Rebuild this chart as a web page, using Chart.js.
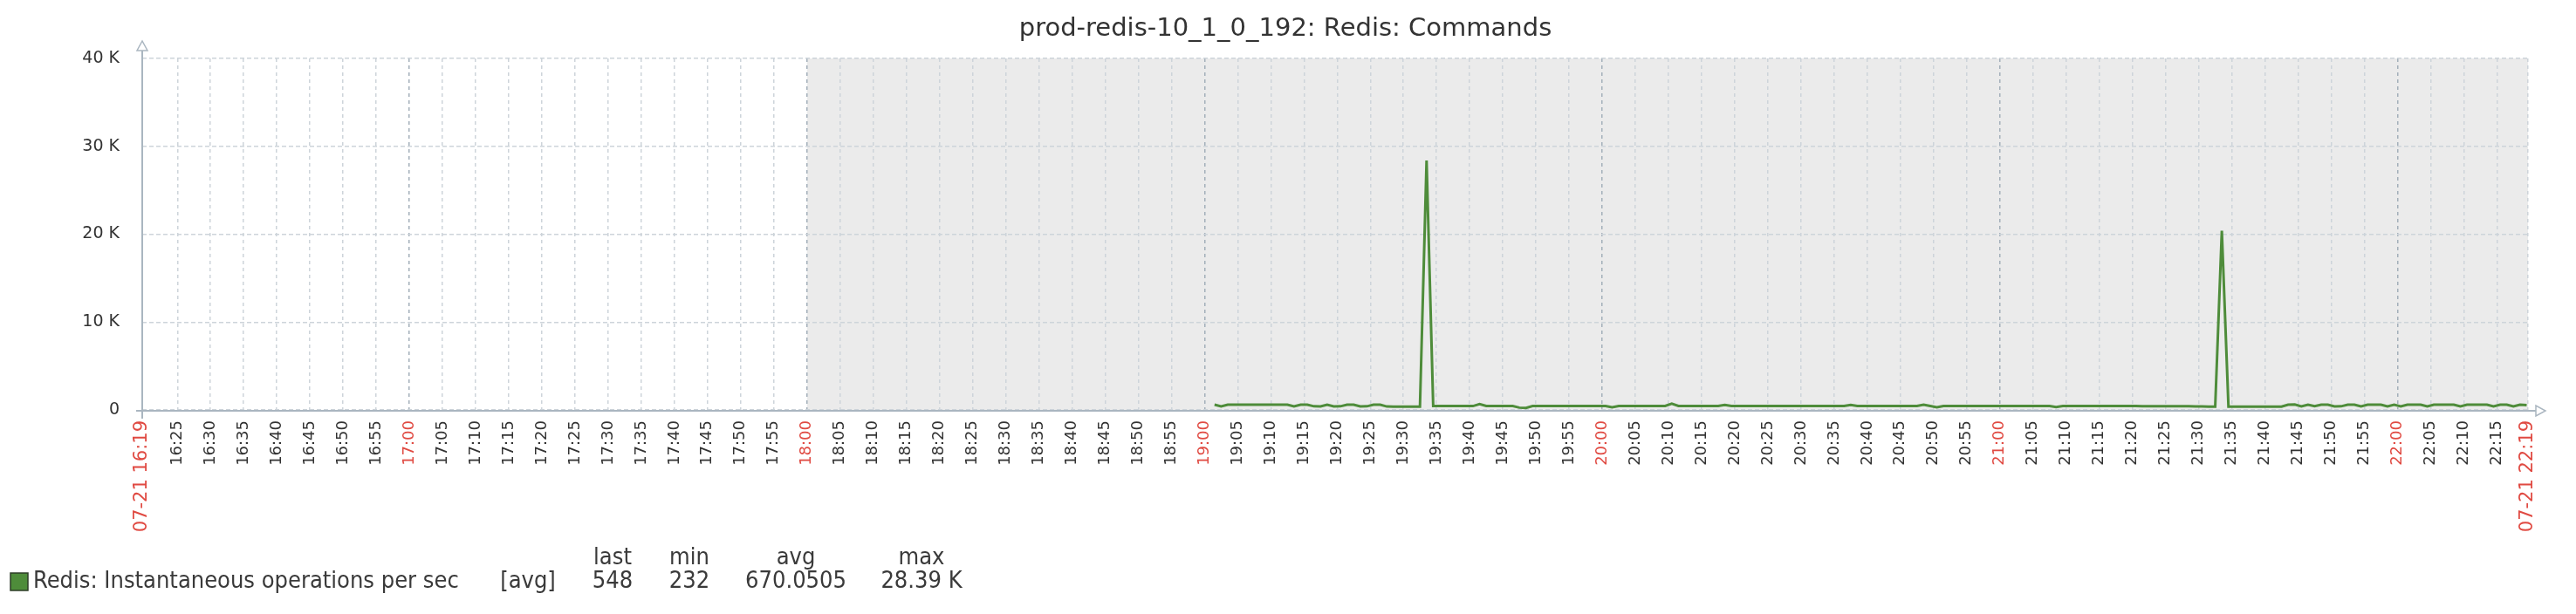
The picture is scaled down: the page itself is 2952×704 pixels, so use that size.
<!DOCTYPE html>
<html>
<head>
<meta charset="utf-8">
<title>prod-redis-10_1_0_192: Redis: Commands</title>
<script src="https://cdn.jsdelivr.net/npm/chart.js@4.4.1/dist/chart.umd.min.js"></script>
<style>
    html, body { margin: 0; padding: 0; background: #fff; }
    canvas { display: block; }
</style>
</head>
<body>
<canvas id="myChart" width="2952" height="704"></canvas>
<script>
const graphTitle = 'prod-redis-10_1_0_192: Redis: Commands';
const itemName = 'Redis: Instantaneous operations per sec';
const itemFunc = '[avg]';
const periodDate = '07-21';
const periodStart = '16:19:42';
const periodEnd = '22:19:42';
const shadeFrom = '18:00';

// one sample a minute, first one at 19:01:30
const firstSample = '19:01:30';
const opsPerSec = [
    600, 410, 590, 600, 605, 600, 600, 605, 600, 600,     // 19:01
    600, 600, 400, 590, 600, 410, 400, 590, 400, 410,     // 19:11
    600, 590, 400, 410, 590, 600, 390, 380, 380, 380,     // 19:21
    380, 380, 28390, 440, 440, 440, 440, 440, 440, 440,   // 19:31
    660, 450, 440, 440, 440, 440, 260, 232, 440, 450,     // 19:41
    450, 450, 450, 450, 450, 450, 450, 450, 450, 450,     // 19:51
    300, 440, 450, 450, 450, 450, 450, 450, 450, 700,     // 20:01
    450, 450, 450, 450, 450, 450, 450, 560, 450, 450,     // 20:11
    450, 450, 450, 450, 450, 450, 450, 450, 450, 450,     // 20:21
    450, 450, 450, 450, 450, 450, 580, 450, 450, 450,     // 20:31
    450, 450, 450, 450, 450, 450, 450, 600, 450, 300,     // 20:41
    450, 450, 450, 450, 450, 450, 450, 450, 450, 450,     // 20:51
    450, 450, 450, 450, 450, 450, 450, 330, 450, 450,     // 21:01
    450, 450, 450, 450, 450, 450, 450, 450, 450, 450,     // 21:11
    420, 420, 420, 420, 420, 420, 420, 420, 400, 400,     // 21:21
    380, 380, 20400, 380, 380, 380, 380, 380, 380, 380,   // 21:31
    380, 380, 600, 610, 400, 600, 420, 600, 600, 400,     // 21:41
    410, 600, 600, 400, 600, 600, 600, 400, 590, 400,     // 21:51
    600, 600, 600, 400, 600, 600, 600, 600, 400, 600,     // 22:01
    600, 600, 600, 400, 600, 600, 400, 600, 548            // 22:11
];

const yTicks = [0, 10000, 20000, 30000, 40000];
const legendHeads = ['last', 'min', 'avg', 'max'];
const legendValues = ['548', '232', '670.0505', '28.39 K'];

const lineColor = '#4e8c3a';
const axisColor = '#aab6c0';
const redText = '#e04a42';
const darkText = '#333333';

function toMin(s) {
    var p = s.split(':').map(Number);
    return p[0] * 60 + p[1] + (p[2] || 0) / 60;
}

function hhmm(m) {
    var h = Math.floor(m / 60);
    var mm = Math.floor(m % 60);
    return String(h).padStart(2, '0') + ':' + String(mm).padStart(2, '0');
}

const xMin = toMin(periodStart);
const xMax = toMin(periodEnd);

// 5 minute ticks, the ones too close to the edge labels are left out
var xTicks = [xMin];
for (var m = Math.ceil(xMin / 5) * 5; m < xMax; m += 5) {
    if (m - xMin > 2 && xMax - m > 2) xTicks.push(m);
}
xTicks.push(xMax);

function isEdge(v) {
    return v === xMin || v === xMax;
}
function isHour(v) {
    return !isEdge(v) && v % 60 === 0;
}

var points = [];
var t0 = toMin(firstSample);
for (var i = 0; i < opsPerSec.length; i++) {
    points.push({ x: t0 + i, y: opsPerSec[i] });
}

const decor = {
    id: 'decor',
    beforeDraw(chart) {
        const ctx = chart.ctx;
        const a = chart.chartArea;
        const x = chart.scales.x;
        ctx.save();
        ctx.fillStyle = '#ffffff';
        ctx.fillRect(0, 0, chart.width, chart.height);
        const sx = x.getPixelForValue(toMin(shadeFrom));
        ctx.fillStyle = '#ebebeb';
        ctx.fillRect(sx, a.top, a.right - sx, a.bottom - a.top);
        ctx.restore();
    },
    afterDraw(chart) {
        const ctx = chart.ctx;
        const a = chart.chartArea;
        ctx.save();

        // axes with arrows
        ctx.strokeStyle = axisColor;
        ctx.lineWidth = 2;
        ctx.beginPath();
        ctx.moveTo(a.left, 58);
        ctx.lineTo(a.left, a.bottom + 10);
        ctx.moveTo(a.left - 7, a.bottom + 1);
        ctx.lineTo(a.right + 9, a.bottom + 1);
        ctx.stroke();

        ctx.fillStyle = '#ffffff';
        ctx.lineWidth = 1.5;
        ctx.beginPath();
        ctx.moveTo(a.left - 6, 58);
        ctx.lineTo(a.left + 6, 58);
        ctx.lineTo(a.left, 47);
        ctx.closePath();
        ctx.fill();
        ctx.stroke();

        ctx.beginPath();
        ctx.moveTo(a.right + 9, a.bottom + 1 - 6);
        ctx.lineTo(a.right + 9, a.bottom + 1 + 6);
        ctx.lineTo(a.right + 20, a.bottom + 1);
        ctx.closePath();
        ctx.fill();
        ctx.stroke();

        // title
        ctx.fillStyle = darkText;
        ctx.textAlign = 'center';
        ctx.textBaseline = 'middle';
        ctx.font = '29px "DejaVu Sans"';
        ctx.fillText(graphTitle, 1473, 33);

        // legend
        ctx.fillStyle = lineColor;
        ctx.fillRect(12, 657, 20, 20);
        ctx.strokeStyle = '#2d3d27';
        ctx.lineWidth = 1.5;
        ctx.strokeRect(12, 657, 20, 20);

        ctx.fillStyle = '#3a3a3a';
        ctx.font = '27px "DejaVu Sans Condensed", "DejaVu Sans"';
        ctx.textAlign = 'left';
        ctx.fillText(itemName, 38, 667);
        ctx.textAlign = 'center';
        ctx.fillText(itemFunc, 605, 667);
        const cols = [702, 790, 912, 1056];
        for (var k = 0; k < cols.length; k++) {
            ctx.fillText(legendHeads[k], cols[k], 640);
            ctx.fillText(legendValues[k], cols[k], 667);
        }
        ctx.restore();
    }
};

const config = {
    type: 'line',
    data: {
        datasets: [{
            label: itemName,
            data: points,
            borderColor: lineColor,
            borderWidth: 3,
            pointRadius: 0,
            tension: 0,
            fill: false
        }]
    },
    options: {
        responsive: false,
        animation: false,
        devicePixelRatio: 1,
        layout: { padding: { top: 67, right: 55, left: 0, bottom: 0 } },
        plugins: {
            legend: { display: false },
            title: { display: false },
            tooltip: { enabled: false }
        },
        scales: {
            x: {
                type: 'linear',
                min: xMin,
                max: xMax,
                afterBuildTicks: function (s) {
                    s.ticks = xTicks.map(function (v) { return { value: v }; });
                },
                afterFit: function (s) { s.height = 234; },
                border: { display: false, dash: [4, 4] },
                grid: {
                    drawTicks: false,
                    lineWidth: 1.5,
                    color: function (c) {
                        return c.tick && isHour(c.tick.value) ? '#a3afba' : '#cdd4da';
                    }
                },
                ticks: {
                    autoSkip: false,
                    minRotation: 90,
                    maxRotation: 90,
                    padding: 12,
                    font: function (c) {
                        var edge = c.tick && isEdge(c.tick.value);
                        return { family: 'DejaVu Sans', size: edge ? 21 : 18 };
                    },
                    color: function (c) {
                        return c.tick && (isHour(c.tick.value) || isEdge(c.tick.value)) ? redText : darkText;
                    },
                    callback: function (v) {
                        if (isEdge(v)) return periodDate + ' ' + hhmm(v);
                        return hhmm(v);
                    }
                }
            },
            y: {
                min: 0,
                max: 40000,
                afterBuildTicks: function (s) {
                    s.ticks = yTicks.map(function (v) { return { value: v }; });
                },
                afterFit: function (s) { s.width = 163; },
                border: { display: false, dash: [5, 3] },
                grid: {
                    drawTicks: false,
                    lineWidth: 1.5,
                    color: '#cdd4da'
                },
                ticks: {
                    padding: 26,
                    font: { family: 'DejaVu Sans', size: 19 },
                    color: darkText,
                    callback: function (v) {
                        return v === 0 ? '0' : (v / 1000) + ' K';
                    }
                }
            }
        }
    },
    plugins: [decor]
};

new Chart(document.getElementById('myChart'), config);
</script>
</body>
</html>
